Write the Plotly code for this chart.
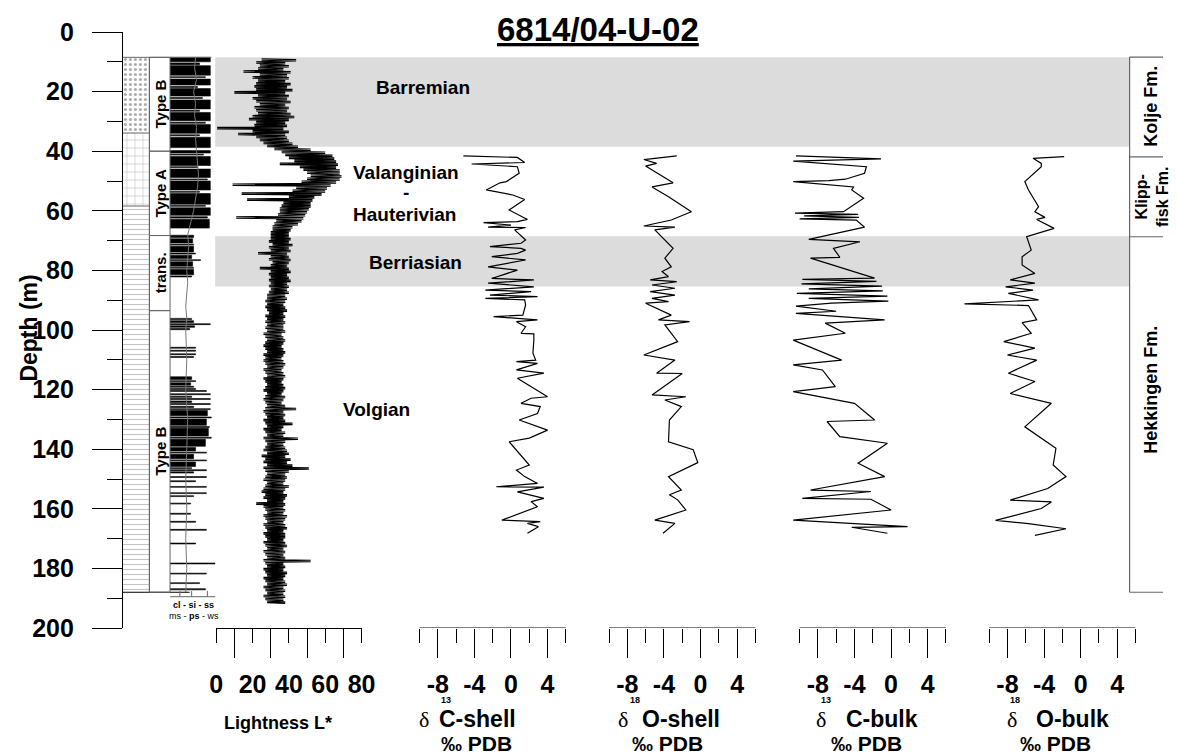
import plotly.graph_objects as go

W, H = 1177, 756
PLOT_T, PLOT_B = 32, 628
FONT = "Liberation Sans, Arial, sans-serif"
SERIF = "Liberation Serif, Times New Roman, serif"


def PX(x):
    return x / W


def PY(y):
    return (PLOT_B - y) / (PLOT_B - PLOT_T)


# ---------------------------------------------------------------- data
depth_ticks = [0, 20, 40, 60, 80, 100, 120, 140, 160, 180, 200]
depth_minor = [10, 30, 50, 70, 90, 110, 130, 150, 170, 190]

light_ticks = [0, 20, 40, 60, 80]
light_minor = [10, 30, 50, 70]
iso_ticks = [-8, -4, 0, 4]
iso_ticktext = ["-8", "-4", "0", "4"]
iso_minor = [-10, -6, -2, 2, 6]

# Lightness L* : envelope (low / high) sampled every metre from 9 m to 191 m
L_depth = list(range(9, 192))
L_hi = [44, 38, 40, 37, 41, 39, 40, 38, 41, 39,
        42, 38, 40, 39, 41, 38, 40, 39, 41, 43,
        40, 38, 39, 37, 40, 38, 39, 40, 42, 45,
        52, 60, 64, 65, 66, 67, 66, 68, 68, 69,
        68, 66, 63, 61, 60, 58, 54, 53, 52, 52,
        51, 50, 49, 48, 47, 45, 42, 41, 40, 40,
        41, 40, 42, 40, 41, 39, 40, 41, 40, 39,
        40, 41, 39, 40, 41, 39, 40, 39, 40, 38,
        39, 38, 37, 38, 39, 37, 38, 37, 38, 37,
        37, 38, 36, 37, 38, 37, 36, 37, 38, 37,
        36, 37, 38, 37, 36, 37, 38, 37, 36, 37,
        38, 37, 36, 38, 37, 36, 38, 44, 37, 38,
        37, 38, 42, 37, 36, 38, 37, 45, 38, 37,
        38, 39, 40, 38, 41, 39, 42, 51, 40, 38,
        39, 38, 37, 40, 38, 37, 39, 38, 37, 38,
        37, 38, 37, 39, 38, 37, 38, 39, 37, 38,
        38, 37, 38, 39, 37, 38, 37, 38, 52, 37,
        38, 37, 39, 38, 37, 38, 39, 37, 38, 37,
        38, 37, 38]
L_lo = [25, 22, 24, 23, 15, 24, 20, 23, 22, 21,
        22, 10, 23, 20, 22, 24, 21, 22, 23, 20,
        18, 22, 21, 0.5, 20, 12, 22, 24, 26, 28,
        32, 36, 38, 40, 43, 35, 46, 48, 50, 52,
        50, 47, 9, 44, 42, 14, 40, 17, 37, 36,
        35, 35, 34, 11, 33, 32, 31, 31, 30, 30,
        30, 29, 31, 29, 30, 23, 30, 29, 31, 30,
        24, 30, 29, 30, 29, 30, 29, 30, 29, 28,
        28, 27, 28, 27, 28, 29, 27, 28, 27, 28,
        27, 28, 26, 27, 28, 27, 26, 27, 28, 26,
        27, 26, 27, 28, 26, 27, 28, 26, 27, 28,
        27, 26, 28, 27, 26, 27, 28, 27, 26, 27,
        28, 26, 27, 28, 26, 27, 28, 26, 27, 28,
        27, 26, 28, 25, 27, 26, 28, 26, 27, 28,
        27, 26, 28, 27, 26, 25, 27, 26, 28, 22,
        26, 27, 28, 26, 27, 28, 26, 27, 28, 26,
        27, 28, 26, 27, 28, 26, 27, 28, 26, 27,
        28, 26, 27, 28, 26, 27, 28, 26, 27, 28,
        26, 27, 28]

# d13C shell (permil PDB)
CS_depth = [41.6, 42.1, 43.8, 44.3, 45.2, 47.4, 50.2, 50.6, 53.0, 54.7, 56.2, 59.7,
            62.9, 63.6, 64.0, 64.8, 65.5, 65.6, 66.4, 69.8, 70.9, 72.0, 72.6, 73.2,
            74.3, 75.4, 76.5, 78.8, 79.9, 82.7, 83.2, 84.3, 85.5, 86.6, 87.1, 88.3,
            88.8, 89.4, 89.9, 91.6, 95.0, 95.5, 96.1, 96.6, 97.2, 98.9, 101.1, 101.3,
            103.4, 107.8, 110.1, 110.6, 111.2, 113.4, 114.5, 116.2, 122.4, 122.9, 124.6,
            125.7, 128.0, 130.2, 133.6, 136.3, 137.5, 145.3, 147.0, 149.2, 151.5, 152.6,
            152.7, 154.3, 156.5, 157.6, 159.3, 163.8, 164.3, 164.9, 166.0, 168.2]
CS_val = [-5.2, 0.7, 1.5, -4.3, 0.7, 0.9, -0.5, -1.2, -2.7, 0.2, 1.5, -0.2,
          1.8, 0.7, -3.0, 0.0, -2.5, 1.6, 0.4, 1.6, 1.1, -2.3, 1.1, 1.6,
          0.7, -2.1, 1.6, -2.5, 0.7, -2.1, 2.5, -2.5, 2.5, -2.8, 2.2, -2.3,
          2.9, -2.8, 1.5, 1.6, 1.3, -1.9, 0.7, 2.9, 0.6, 1.6, 1.1, 2.5,
          2.5, 2.4, 2.7, 0.6, 2.9, 0.6, 3.6, 0.7, 4.0, 2.2, 1.1,
          3.2, 2.9, 0.9, 4.0, 2.0, -0.2, 2.0, 0.6, 1.5, 2.9, -1.6,
          3.6, 0.7, 3.6, 2.2, 2.9, -1.0, 3.2, 1.8, 3.0, 1.8]

# d18O shell
OS_depth = [41.6, 42.8, 44.1, 45.0, 50.6, 52.0, 55.3, 60.3, 63.1, 65.1, 65.5, 66.4,
            72.6, 75.9, 78.8, 80.4, 82.1, 83.2, 83.8, 84.9, 86.0, 87.1, 88.3, 89.4,
            90.5, 91.0, 95.0, 96.6, 97.2, 98.3, 103.9, 108.4, 110.1, 114.5, 114.6,
            121.8, 122.4, 123.5, 125.7, 130.2, 137.5, 140.2, 144.5, 149.2, 153.7,
            155.3, 157.0, 160.4, 163.8, 164.9, 168.2]
OS_val = [-2.6, -6.2, -4.8, -6.0, -3.0, -5.3, -3.5, -1.0, -3.2, -6.2, -2.8, -5.0,
          -3.0, -3.9, -3.2, -4.2, -3.5, -5.5, -2.6, -5.3, -2.8, -5.5, -2.8, -5.3,
          -3.5, -6.0, -3.2, -4.6, -1.2, -3.9, -2.5, -6.2, -2.8, -4.8, -2.0,
          -5.3, -1.6, -3.9, -2.1, -3.4, -3.5, -0.8, -0.3, -3.5, -2.1,
          -3.4, -2.5, -1.6, -5.0, -2.8, -4.1]

# d13C bulk
CB_depth = [41.6, 42.2, 42.6, 43.3, 45.2, 47.4, 49.4, 49.9, 50.2, 52.0, 53.0, 55.8,
            60.3, 60.8, 61.2, 61.7, 62.2, 62.7, 63.1, 65.5, 69.6, 70.4, 72.6, 75.6,
            75.9, 82.6, 83.0, 83.7, 84.5, 85.3, 86.2, 86.9, 87.7, 88.6, 89.4, 90.3,
            91.0, 92.0, 93.7, 94.4, 96.6, 97.7, 101.1, 103.4, 105.6, 110.1, 111.7,
            113.4, 119.0, 120.7, 124.6, 130.2, 130.7, 135.8, 138.0, 144.7, 149.2,
            153.7, 154.2, 156.5, 156.8, 160.4, 163.8, 166.0, 166.2, 168.2]
CB_val = [-10.4, -3.8, -1.1, -10.7, -2.7, -2.9, -5.0, -6.8, -10.7, -4.1, -4.3, -3.0,
          -5.2, -10.5, -3.6, -9.5, -3.5, -10.0, -3.8, -2.9, -9.0, -3.4, -6.3, -5.6,
          -8.8, -1.8, -9.7, -1.6, -9.8, -1.0, -9.0, -0.9, -10.3, -0.4, -9.0, -0.3,
          -6.5, -10.4, -6.0, -10.4, -0.7, -7.2, -5.0, -10.7, -9.0, -5.4, -10.7,
          -7.5, -6.1, -10.7, -4.0, -1.8, -7.0, -5.6, -0.4, -3.6, -0.7,
          -8.8, -2.2, -9.7, -2.2, 0.0, -10.7, 1.8, -4.3, -0.4]

# d18O bulk
OB_depth = [41.8, 42.4, 44.1, 45.2, 50.2, 53.0, 58.6, 60.3, 62.2, 62.9, 65.9, 68.7,
            73.2, 75.4, 78.2, 81.0, 83.2, 84.3, 85.5, 86.6, 87.7, 89.9, 91.2, 91.8,
            96.6, 97.5, 101.1, 103.9, 106.1, 108.4, 110.1, 114.5, 117.3, 121.3, 124.6,
            132.5, 139.7, 145.3, 149.2, 153.2, 157.1, 157.7, 159.9, 163.9, 165.0,
            166.7, 168.9]
OB_val = [-1.8, -5.2, -4.3, -4.3, -6.1, -5.7, -4.6, -5.0, -3.9, -4.8, -2.9, -5.9,
          -5.4, -6.4, -6.4, -5.0, -7.7, -5.0, -8.2, -5.2, -7.9, -4.6, -12.7, -5.7,
          -4.8, -6.4, -5.4, -8.4, -5.0, -8.0, -4.8, -7.9, -5.0, -7.7, -3.2,
          -6.1, -2.7, -3.0, -1.6, -3.6, -7.7, -3.2, -4.3, -9.3, -5.7,
          -1.6, -5.0]

# grain-size log: (top depth, base depth, bar length in log units)
G_top = [8.5, 10.4, 11.3, 15.0, 15.8, 18.3, 19.0, 22.0, 22.8, 26.3, 27.0, 30.3, 31.0, 34.5, 35.3,
         39.8, 41.0, 41.8, 45.2, 46.0, 49.3, 50.0, 53.5, 54.2, 58.2, 59.0, 62.0, 62.8,
         68.2, 69.4, 71.2, 71.9, 74.2, 74.9, 76.4, 77.1, 79.0, 79.7, 81.9,
         96.1, 96.9, 97.9, 98.6, 99.5, 105.8, 106.8, 108.0, 108.9,
         115.7, 117.0, 117.7, 118.9, 119.6, 120.3, 121.4, 122.2, 123.0, 123.8, 124.7, 125.6, 126.4,
         127.0, 129.2, 129.9, 132.4, 133.0, 136.0, 136.7,
         139.4, 141.0, 141.7, 143.6, 144.3, 146.2, 146.9, 147.6,
         149.2, 150.6, 152.5, 154.6, 155.6, 158.1, 161.5, 164.2, 166.9,
         171.5, 178.2, 181.6, 184.8, 186.8]
G_bot = [10.0, 11.0, 14.5, 15.3, 17.8, 18.6, 21.5, 22.3, 25.8, 26.6, 29.8, 30.6, 34.0, 34.8, 38.8,
         40.6, 41.3, 44.8, 45.5, 48.8, 49.6, 53.0, 53.8, 57.8, 58.5, 61.5, 62.4, 65.8,
         69.0, 70.8, 71.5, 73.8, 74.5, 76.0, 76.7, 78.6, 79.3, 81.5, 82.2,
         96.5, 97.5, 98.2, 99.1, 99.9, 106.1, 107.1, 108.3, 109.2,
         116.6, 117.3, 118.5, 119.2, 120.0, 120.6, 121.7, 122.6, 123.3, 124.3, 125.0, 126.0, 126.7,
         128.8, 129.5, 132.0, 132.7, 135.6, 136.3, 139.0,
         140.6, 141.3, 143.2, 143.9, 145.8, 146.5, 147.2, 148.0,
         149.5, 150.9, 152.8, 154.9, 155.9, 158.4, 161.8, 164.5, 167.2,
         171.8, 178.5, 181.9, 185.1, 187.2]
G_len = [41, 30, 41, 36, 41, 28, 41, 33, 41, 30, 41, 36, 41, 30, 41,
         41, 34, 41, 28, 41, 38, 41, 30, 41, 36, 41, 38, 40,
         24, 23, 24, 24, 26, 22, 31, 23, 24, 24, 22,
         22, 24, 41, 25, 20, 26, 26, 26, 24,
         22, 26, 21, 24, 26, 37, 41, 22, 41, 22, 41, 24, 41,
         38, 42, 37, 40, 39, 42, 36,
         26, 37, 24, 37, 26, 22, 37, 24,
         37, 26, 37, 37, 24, 21, 21, 26, 37,
         26, 46, 37, 30, 36]

# grain-size trend curve
GC_depth = [8.5, 12, 16, 20, 24, 28, 32, 36, 40, 44, 48, 52, 56, 60, 64, 68, 72, 76, 80,
            84, 88, 92, 96, 100, 110, 120, 130, 140, 150, 160, 170, 180, 188]
GC_val = [26, 25, 27, 24, 26, 25, 27, 26, 27, 28, 29, 28, 26, 24, 21, 18, 19, 18, 17,
          18, 17, 16, 17, 16, 17, 16, 18, 17, 16, 17, 16, 17, 16]

# lithology
lith_top = [8.5, 33.9, 58.4]
lith_bot = [33.9, 58.4, 188.0]
lith_kind = ["silt", "limestone", "shale"]

# facies types
type_top = [8.5, 40.0, 68.3, 93.5]
type_bot = [40.0, 68.3, 93.5, 188.0]
type_label = ["Type B", "Type A", "trans.", "Type B"]

# formations
fm_top = [8.4, 41.9, 68.7]
fm_bot = [41.9, 68.7, 188.0]
fm_label = ["Kolje Fm.", "Klipp-<br>fisk Fm.", "Hekkingen Fm."]
fm_label_depth = [25.0, 55.3, 120.0]

# stages
band_top = [8.5, 68.5]
band_bot = [38.5, 85.4]
stage_label = ["Barremian", "Valanginian", "-", "Hauterivian", "Berriasian", "Volgian"]
stage_depth = [18.5, 47.0, 54.0, 61.4, 77.2, 126.8]
stage_xpx = [424, 406, 406, 405, 416, 376]

# ---------------------------------------------------------------- figure
fig = go.Figure()

lith_style = {
    "silt": dict(shape=".", size=5, solidity=0.3, fgcolor="#555555"),
    "limestone": dict(shape="+", size=8, solidity=0.12, fgcolor="#666666"),
    "shale": dict(shape="-", size=5, solidity=0.22, fgcolor="#888888"),
}
for t, b, k in zip(lith_top, lith_bot, lith_kind):
    st = lith_style[k]
    fig.add_trace(go.Bar(
        orientation="h", y=[(t + b) / 2], x=[1], width=[b - t], base=0,
        xaxis="x", yaxis="y",
        marker=dict(color="white", line=dict(width=0),
                    pattern=dict(shape=st["shape"], size=st["size"], solidity=st["solidity"],
                                 fgcolor=st["fgcolor"], bgcolor="white")),
        hoverinfo="skip"))

# grain-size bars
fig.add_trace(go.Bar(
    orientation="h",
    y=[(t + b) / 2 for t, b in zip(G_top, G_bot)],
    x=G_len, width=[b - t for t, b in zip(G_top, G_bot)], base=0,
    xaxis="x2", yaxis="y",
    marker=dict(color="black", line=dict(color="black", width=0.6)),
    hoverinfo="skip"))
fig.add_trace(go.Scatter(x=GC_val, y=GC_depth, xaxis="x2", yaxis="y", mode="lines",
                         line=dict(color="#777777", width=1), hoverinfo="skip"))

# lightness band: zig-zag between the low and high envelope, 4 turns per metre
lx, ly = [], []
for d, lo, hi in zip(L_depth, L_lo, L_hi):
    lx += [lo, hi, lo, hi]
    ly += [d, d + 0.25, d + 0.5, d + 0.75]
fig.add_trace(go.Scatter(x=lx, y=ly, xaxis="x3", yaxis="y", mode="lines",
                         line=dict(color="black", width=1.1), hoverinfo="skip"))

for ax, dep, val in (("x4", CS_depth, CS_val), ("x5", OS_depth, OS_val),
                     ("x6", CB_depth, CB_val), ("x7", OB_depth, OB_val)):
    fig.add_trace(go.Scatter(x=val, y=dep, xaxis=ax, yaxis="y", mode="lines",
                             line=dict(color="black", width=1.2), hoverinfo="skip"))

# ---------------------------------------------------------------- axes
tickfont = dict(family=FONT, size=25, color="black", weight="bold")
layout = dict(
    width=W, height=H, margin=dict(l=0, r=0, t=PLOT_T, b=H - PLOT_B),
    paper_bgcolor="white", plot_bgcolor="rgba(0,0,0,0)", showlegend=False,
    barmode="overlay",
    yaxis=dict(range=[200, 0], domain=[0, 1], anchor="x", tickmode="array",
               tickvals=depth_ticks, ticks="outside", ticklen=30, tickwidth=1,
               tickcolor="black",
               minor=dict(tickmode="array", tickvals=depth_minor, ticks="outside",
                          ticklen=15, tickwidth=1, tickcolor="black"),
               showline=True, linecolor="black", linewidth=1, showgrid=False,
               zeroline=False, tickfont=dict(family=FONT, size=25, color="black",
                                             weight="bold"),
               ticklabelstandoff=13),
    xaxis=dict(domain=[PX(118), PX(145)], range=[0, 1], anchor="y", visible=False),
    xaxis2=dict(domain=[PX(166), PX(212)], range=[0, 46], anchor="y", visible=False),
    xaxis3=dict(domain=[PX(213), PX(361)], range=[0, 80], anchor="y",
                tickmode="array", tickvals=light_ticks, ticks="outside", ticklen=14,
                tickwidth=1, tickcolor="black",
                minor=dict(tickmode="array", tickvals=light_minor, ticks="outside",
                           ticklen=29, tickwidth=1, tickcolor="black"),
                showline=True, linecolor="black", linewidth=1, showgrid=False,
                zeroline=False, tickfont=tickfont, ticklabelstandoff=20),
)

iso_x0 = [420, 613, 807, 1000]
SCALE = 149 / 16.0
PADL, PADR = 32, 14
shapes = []
for i, x0 in enumerate(iso_x0):
    name = "xaxis%d" % (i + 4)
    layout[name] = dict(
        domain=[PX(x0 - PADL), PX(x0 + 149 + PADR)],
        range=[-10 - PADL / SCALE, 6 + PADR / SCALE], anchor="y",
        tickmode="array", tickvals=iso_ticks, ticktext=iso_ticktext, ticks="outside",
        ticklen=29, tickwidth=1, tickcolor="black",
        minor=dict(tickmode="array", tickvals=iso_minor, ticks="outside",
                   ticklen=14, tickwidth=1, tickcolor="black"),
        showline=False, showgrid=False, zeroline=False, tickfont=tickfont,
        ticklabelstandoff=5)
    shapes.append(dict(type="line", xref="x%d" % (i + 4), yref="y",
                       x0=iso_minor[0], x1=iso_minor[-1], y0=200, y1=200,
                       line=dict(color="black", width=1)))

# gray stage bands
for t, b in zip(band_top, band_bot):
    shapes.append(dict(type="rect", xref="paper", yref="y", x0=PX(212), x1=PX(1143),
                       y0=t, y1=b, fillcolor="#dcdcdc", line=dict(width=0), layer="below"))

GRAY = "#666666"
# lithology frame
shapes.append(dict(type="line", xref="paper", yref="y", x0=PX(145), x1=PX(145),
                   y0=lith_top[0], y1=lith_bot[-1], line=dict(color=GRAY, width=1)))
shapes.append(dict(type="line", xref="paper", yref="y", x0=PX(118), x1=PX(208),
                   y0=lith_top[0], y1=lith_top[0], line=dict(color=GRAY, width=1)))
shapes.append(dict(type="line", xref="paper", yref="y", x0=PX(118), x1=PX(186),
                   y0=lith_bot[-1], y1=lith_bot[-1], line=dict(color="black", width=1.2)))
for t in lith_top[1:]:
    shapes.append(dict(type="line", xref="paper", yref="y", x0=PX(118), x1=PX(145),
                       y0=t, y1=t, line=dict(color=GRAY, width=1)))
# type boxes
for t, b in zip(type_top, type_bot):
    shapes.append(dict(type="rect", xref="paper", yref="y", x0=PX(145), x1=PX(166),
                       y0=t, y1=b, line=dict(color=GRAY, width=1), fillcolor="rgba(0,0,0,0)"))
# grain mini axis
shapes.append(dict(type="line", xref="x2", yref="y", x0=0, x1=48, y0=189.5, y1=189.5,
                   line=dict(color=GRAY, width=1)))
for gx in (10, 22, 38):
    shapes.append(dict(type="line", xref="x2", yref="y", x0=gx, x1=gx, y0=187.6, y1=189.5,
                       line=dict(color=GRAY, width=1)))
# formation column
shapes.append(dict(type="line", xref="paper", yref="y", x0=PX(1143), x1=PX(1143),
                   y0=fm_top[0], y1=fm_bot[-1], line=dict(color=GRAY, width=1.2)))
for d in fm_top + [fm_bot[-1]]:
    shapes.append(dict(type="line", xref="paper", yref="y", x0=PX(1143), x1=PX(1177),
                       y0=d, y1=d, line=dict(color=GRAY, width=1.2)))

layout["shapes"] = shapes

# ---------------------------------------------------------------- annotations
ann = []


def A(text, x, y, size, family=FONT, xanchor="center", angle=0, yref="paper", yv=None):
    ann.append(dict(text=text, x=PX(x), y=PY(y) if yv is None else yv, xref="paper",
                    yref=yref, showarrow=False, xanchor=xanchor, yanchor="middle",
                    textangle=angle,
                    font=dict(family=family, size=size, color="black")))


A("<b><u>6814/04-U-02</u></b>", 602, 30, 33)
A("<b>Depth (m)</b>", 22, 328, 23, angle=-90)

for name, d, xp in zip(stage_label, stage_depth, stage_xpx):
    A("<b>%s</b>" % name, xp, 0, 19, yref="y", yv=d)

for t, b, lab in zip(type_top, type_bot, type_label):
    A("<b>%s</b>" % lab, 156, 0, 15, angle=-90, yref="y", yv=(t + b) / 2)

for lab, d in zip(fm_label, fm_label_depth):
    A("<b>%s</b>" % lab, 1164 if "Klipp" not in lab else 1166, 0,
      18 if "Klipp" not in lab else 16, angle=-90, yref="y", yv=d)

A("<b>cl - si - ss</b>", 190, 605, 9)
A("ms - <b>ps</b> - ws", 190, 616, 9)

A("<b>Lightness L*</b>", 276, 723, 18)

iso_names = ["C-shell", "O-shell", "C-bulk", "O-bulk"]
iso_sup = ["13", "18", "13", "18"]
delta_x = [425, 627, 829, 1023]
name_x = [438, 645, 852, 1046]
sup_x = [447, 639, 834, 1026]
pdb_x = [478, 673, 875, 1068]
for nm, sp, dx, nx, sx, px_ in zip(iso_names, iso_sup, delta_x, name_x, sup_x, pdb_x):
    A("δ", dx, 719, 22, family=SERIF)
    A("<b>%s</b>" % nm, nx, 719, 23, xanchor="left")
    A("<b>%s</b>" % sp, sx, 700, 9)
    A("<b>‰ PDB</b>", px_, 743, 21)

layout["annotations"] = ann
fig.update_layout(**layout)
fig.write_html("out.html")
